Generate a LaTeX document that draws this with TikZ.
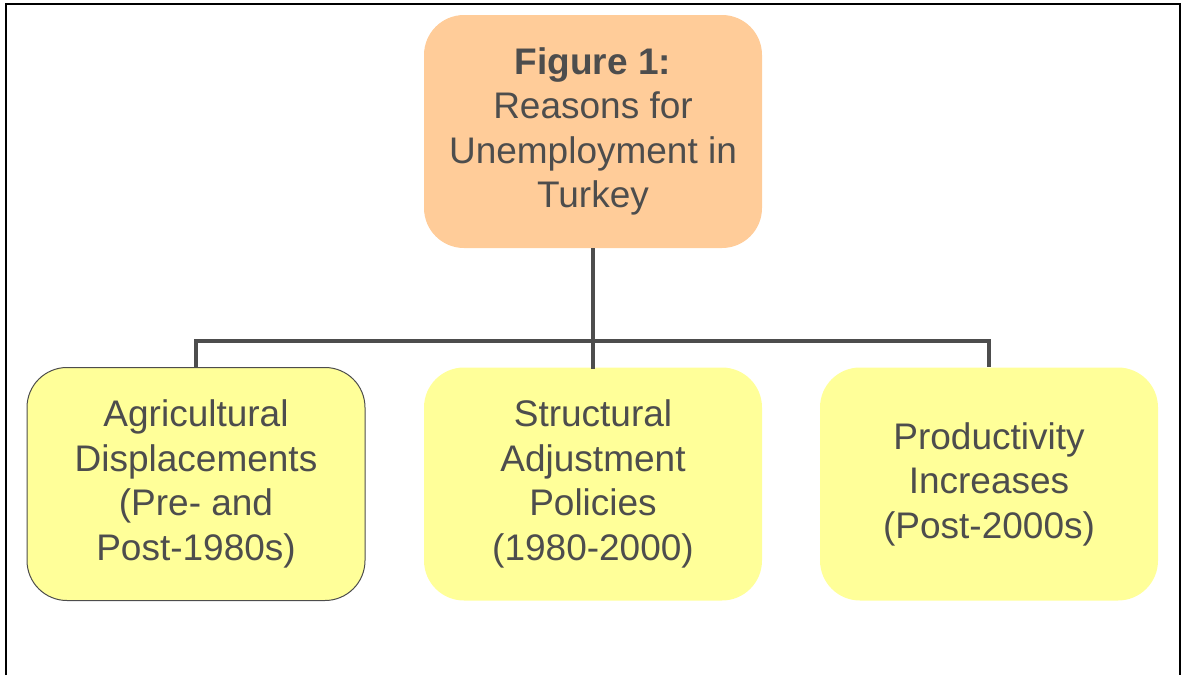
\documentclass[tikz,border=0pt]{standalone}
\usepackage{fontspec}
\setmainfont{Liberation Sans}
\definecolor{boxorange}{HTML}{FFCC99}
\definecolor{boxyellow}{HTML}{FFFF99}
\definecolor{inkgray}{HTML}{4D4D4D}
\tikzset{
  reason/.style={fill=boxyellow, rounded corners=40pt, minimum width=338pt,
    minimum height=233pt, inner sep=0pt, align=center, text=inkgray,
    font=\fontsize{37}{44.5}\selectfont},
  title/.style={reason, fill=boxorange},
  link/.style={draw=inkgray, line width=4pt}
}
\begin{document}
\begin{tikzpicture}[x=1pt, y=-1pt]
  \useasboundingbox (0,0) rectangle (1183,675);
  % Frame, open at the bottom
  \draw[black, line width=2.5pt] (6,675) -- (6,4) -- (1180,4) -- (1180,675);
  % Heading box
  \node[title] (fig) at (593,131.5) {\textbf{Figure 1:}\\Reasons for\\Unemployment in\\Turkey};
  % The three reasons
  \node[reason, draw=inkgray, line width=1pt] (agri) at (196,484)
    {Agricultural\\Displacements\\(Pre- and\\Post-1980s)};
  \node[reason] (sap) at (593,484) {Structural\\Adjustment\\Policies\\(1980-2000)};
  \node[reason] (prod) at (989,484) {Productivity\\Increases\\(Post-2000s)};
  % Tree connectors
  \coordinate (bus) at (593,341);
  \draw[link] (fig.south) -- (bus);
  \draw[link] (bus) -| (agri.north);
  \draw[link] (bus) -| (prod.north);
  \draw[link] (bus) -- ([yshift=-2pt]sap.north);
\end{tikzpicture}
\end{document}
